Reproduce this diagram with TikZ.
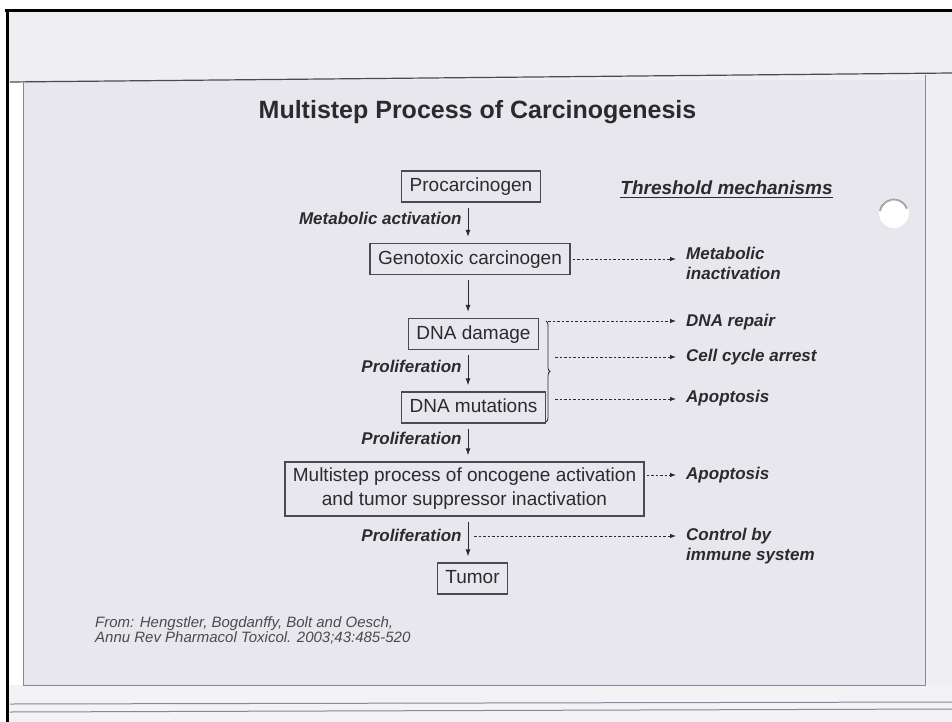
\documentclass[tikz,border=0pt]{standalone}
\usepackage{fontspec}
\setmainfont{Liberation Sans}
\usetikzlibrary{arrows.meta, backgrounds, positioning, decorations.pathreplacing}

\definecolor{slidebg}{HTML}{E8E7ED}
\definecolor{topbg}{HTML}{EFEEF2}
\definecolor{lowbg}{HTML}{F3F2F5}
\definecolor{ink}{HTML}{2B2B2E}
\definecolor{boxline}{HTML}{4A4A55}
\definecolor{edgeline}{HTML}{8A8698}

\begin{document}
\begin{tikzpicture}[x=1pt, y=-1pt,
    box/.style={draw=boxline, line width=1.3pt, text=ink, font=\fontsize{19}{24}\selectfont, inner xsep=8pt},
    stage/.style={box, text height=14pt, text depth=4pt, inner ysep=6.5pt},
    flow/.style={draw=ink, line width=0.9pt, -{Latex[length=7pt,width=5pt]}, shorten <=5pt, shorten >=6pt},
    hint/.style={draw=ink, line width=0.8pt, dash pattern=on 2.5pt off 2pt, -{Latex[length=6pt,width=4.5pt]}, shorten <=2pt, shorten >=8pt},
    steplabel/.style={font=\fontsize{17}{20}\selectfont\bfseries\itshape, text=ink, inner sep=0pt, left=6pt, pos=0.4},
    outcome/.style={font=\fontsize{17}{20}\selectfont\bfseries\itshape, text=ink, anchor=west, inner sep=2pt, align=left}
]
    \useasboundingbox (0,0) rectangle (952,722);

    % Draw the scanned page and slide edges
    \fill[white] (0,0) rectangle (952,722);
    \fill[topbg] (7,11) rectangle (952,82);
    \fill[slidebg] (23,80) rectangle (925,685);
    \fill[topbg] (925,75) rectangle (952,700);
    \fill[lowbg] (9,685) rectangle (952,722);
    \draw[line width=3pt] (5,11) -- (952,11);
    \draw[line width=3pt] (7,11) -- (7,722);
    \draw[boxline, line width=1.2pt] (10,82) -- (952,73);
    \draw[edgeline, line width=0.8pt] (23,82) -- (23,685) -- (925,685) -- (925,75);
    \draw[edgeline, line width=1pt] (10,704) -- (952,702);
    \draw[edgeline, line width=1pt] (10,712) -- (952,709);

    % Punched hole
    \fill[white] (894,213) circle (15);
    \draw[gray!70, line width=2pt] (880,211) arc (190:340:14);

    % Title
    \node[font=\fontsize{25}{29}\selectfont\bfseries, text=ink] (title) at (477.5,112) {Multistep Process of Carcinogenesis};

    % Stages of the process
    \node[stage] (procarc) at (471,186.5) {Procarcinogen};
    \node[stage] (genotox) at (470,259) {Genotoxic carcinogen};
    \node[stage] (damage) at (473.5,334) {DNA damage};
    \node[stage] (mutation) at (473.5,407.5) {DNA mutations};
    \node[box, align=center, minimum height=54pt] (oncogene) at (464.5,489) {Multistep process of oncogene activation\\and tumor suppressor inactivation};
    \node[stage] (tumor) at (472.5,578.5) {Tumor};

    % Main arrows down the spine
    \coordinate (spine) at (468,0);
    \draw[flow] (procarc.south -| spine) -- (genotox.north -| spine) node[steplabel] {Metabolic activation};
    \draw[flow] (genotox.south -| spine) -- (damage.north -| spine);
    \draw[flow] (damage.south -| spine) -- (mutation.north -| spine) node[steplabel] {Proliferation};
    \draw[flow] (mutation.south -| spine) -- (oncogene.north -| spine) node[steplabel] {Proliferation};
    \draw[flow] (oncogene.south -| spine) -- (tumor.north -| spine) node[steplabel] {Proliferation};

    % Threshold mechanisms
    \node[font=\fontsize{19}{22}\selectfont\bfseries\itshape, text=ink, inner sep=0pt] (threshold) at (726.5,188) {Threshold mechanisms};
    \draw[ink, line width=1.2pt] ([yshift=-2.5pt]threshold.south west) -- ([yshift=-2.5pt]threshold.south east);

    \node[outcome] (metabinact) at (684,263) {Metabolic\\inactivation};
    \node[outcome] (repair) at (684,322) {DNA repair};
    \node[outcome] (arrest) at (684,357) {Cell cycle arrest};
    \node[outcome] (apopearly) at (684,398) {Apoptosis};
    \node[outcome] (apoplate) at (684,475) {Apoptosis};
    \node[outcome] (immune) at (684,546) {Control by\\immune system};

    % Brace over DNA damage and mutations
    \coordinate (bracetop) at (546,321);
    \coordinate (bracebot) at (546,422);
    \draw[ink, line width=0.8pt, decorate, decoration={brace, amplitude=4pt}] (bracetop) -- (bracebot);

    % Dashed arrows to the mechanisms
    \coordinate (arrestfrom) at (553,357);
    \coordinate (apopfrom) at (553,399);
    \coordinate (prolfrom) at (472,536);
    \draw[hint] (genotox.east) -- (metabinact.west |- genotox.east);
    \draw[hint] (bracetop) -- (repair.west |- bracetop);
    \draw[hint] (arrestfrom) -- (arrest.west |- arrestfrom);
    \draw[hint] (apopfrom) -- (apopearly.west |- apopfrom);
    \draw[hint] (oncogene.east |- apoplate.west) -- (apoplate.west);
    \draw[hint] (prolfrom) -- (immune.west |- prolfrom);

    % Source
    \node[font=\fontsize{15}{15.5}\selectfont\itshape, text=ink!85, anchor=west, align=left, inner sep=0pt] (source) at (95,630.5) {From: Hengstler, Bogdanffy, Bolt and Oesch,\\Annu Rev Pharmacol Toxicol. 2003;43:485-520};
\end{tikzpicture}
\end{document}
